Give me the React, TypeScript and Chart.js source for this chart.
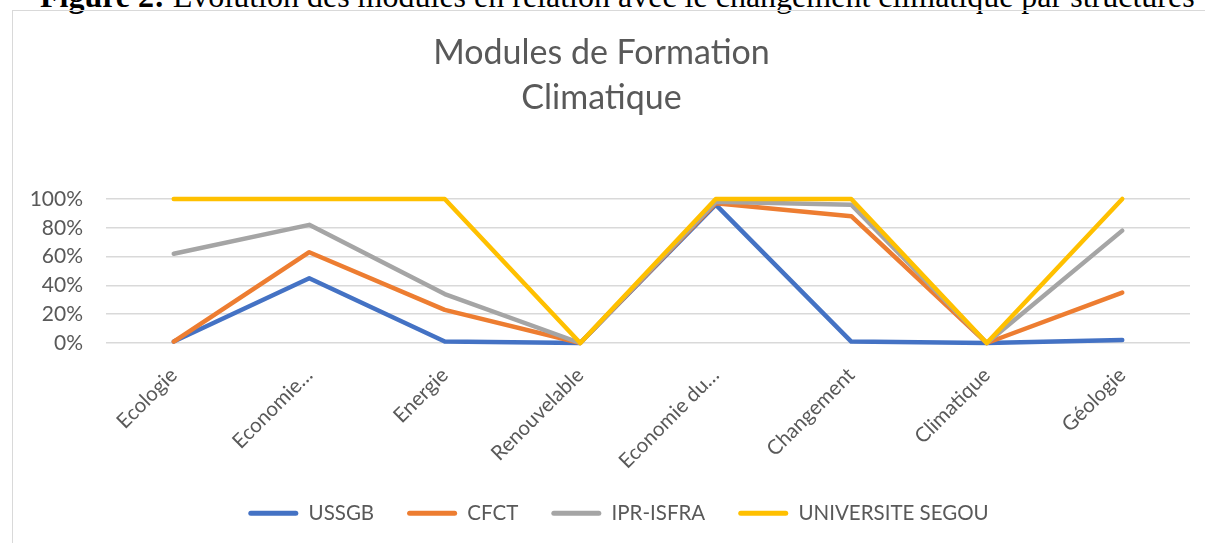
import React, { useEffect, useRef } from "react";
import { Chart, registerables } from "chart.js";

Chart.register(...registerables);

const categories = [
  "Ecologie",
  "Economie…",
  "Energie",
  "Renouvelable",
  "Economie du…",
  "Changement",
  "Climatique",
  "Géologie",
];
const ussgb = [0.01, 0.45, 0.01, 0, 0.96, 0.01, 0, 0.02];
const cfct = [0.01, 0.63, 0.23, 0, 0.97, 0.88, 0, 0.35];
const iprIsfra = [0.62, 0.82, 0.34, 0, 0.98, 0.96, 0, 0.78];
const universiteSegou = [1, 1, 1, 0, 1, 1, 0, 1];
const seriesNames = ["USSGB", "CFCT", "IPR-ISFRA", "UNIVERSITE SEGOU"];
const seriesColors = ["#4472C4", "#ED7D31", "#A5A5A5", "#FFC000"];
const titleLines = ["Modules de Formation", "Climatique"];
const caption = "Evolution des modules en relation avec le changement climatique par structures";

const FONT = "Lato, 'Open Sans', sans-serif";
const GREY = "#595959";

const legendShift = {
  id: "legendShift",
  afterLayout(chart: any) {
    const lg = chart.legend;
    if (lg) {
      lg.left += 17;
      lg.right += 17;
    }
  },
};

export default function App() {
  const ref = useRef<HTMLCanvasElement | null>(null);

  useEffect(() => {
    if (!ref.current) return;
    const values = [ussgb, cfct, iprIsfra, universiteSegou];
    const chart = new Chart(ref.current, {
      type: "line",
      plugins: [legendShift],
      data: {
        labels: categories,
        datasets: values.map((v, i) => ({
          label: seriesNames[i],
          data: v,
          borderColor: seriesColors[i],
          backgroundColor: seriesColors[i],
          borderWidth: 4.5,
          pointRadius: 0,
          pointHoverRadius: 0,
          tension: 0,
          borderCapStyle: "round" as const,
          borderJoinStyle: "round" as const,
          clip: false as any,
          order: 3 - i,
        })),
      },
      options: {
        responsive: false,
        animation: false,
        devicePixelRatio: 1,
        layout: { padding: { left: 13, right: 15, top: 11, bottom: 9.5 } },
        plugins: {
          tooltip: { enabled: false },
          title: {
            display: true,
            text: titleLines,
            color: GREY,
            font: { family: FONT, size: 34, weight: "normal", lineHeight: 1.33 },
            padding: { top: 19.5, bottom: 78 },
          },
          legend: {
            position: "bottom",
            labels: {
              color: GREY,
              font: { family: FONT, size: 20.5 },
              boxWidth: 50,
              boxHeight: 5,
              padding: 33,
              useBorderRadius: true,
              borderRadius: 2.5,
              generateLabels: (chart: any) =>
                chart.data.datasets.map((d: any, i: number) => ({
                  text: d.label,
                  fillStyle: d.borderColor,
                  strokeStyle: d.borderColor,
                  lineWidth: 0,
                  fontColor: GREY,
                  datasetIndex: i,
                  hidden: false,
                  borderRadius: 2.5,
                })),
            },
          },
        },
        scales: {
          x: {
            offset: true,
            grid: { display: false, drawTicks: false, offset: true },
            border: { display: false },
            ticks: {
              color: GREY,
              font: { family: FONT, size: 20.5 },
              minRotation: 45,
              maxRotation: 45,
              autoSkip: false,
              padding: 20,
            },
            afterFit: (s: any) => {
              s.height = 127;
            },
          },
          y: {
            min: 0,
            max: 1,
            grid: { color: "#D9D9D9", lineWidth: 1.5, drawTicks: false },
            border: { display: false },
            ticks: {
              stepSize: 0.2,
              color: GREY,
              font: { family: FONT, size: 21 },
              padding: 23,
              callback: (v: any) => Math.round(Number(v) * 100) + "%",
            },
            afterFit: (s: any) => {
              s.width = 93;
            },
          },
        },
      },
    });
    return () => chart.destroy();
  }, []);

  return (
    <div
      style={{
        position: "absolute",
        left: 0,
        top: 0,
        width: 1205,
        height: 543,
        overflow: "hidden",
        background: "#fff",
      }}
    >
      <div
        style={{
          position: "absolute",
          left: 40,
          top: -20,
          whiteSpace: "nowrap",
          fontFamily: "'Liberation Serif', 'Times New Roman', serif",
          fontSize: 32,
          lineHeight: "32px",
          color: "#000",
        }}
      >
        <b>Figure 2:</b> {caption}
      </div>
      <div
        style={{
          position: "absolute",
          left: 12,
          top: 10,
          width: 1250,
          height: 600,
          border: "1px solid #D9D9D9",
          boxSizing: "border-box",
        }}
      />
      <canvas
        ref={ref}
        width={1205}
        height={543}
        style={{ position: "absolute", left: 0, top: 0, width: 1205, height: 543 }}
      />
    </div>
  );
}
